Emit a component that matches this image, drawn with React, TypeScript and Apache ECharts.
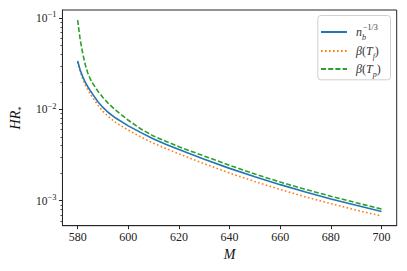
import React, { useEffect, useRef } from "react";
import * as echarts from "echarts";

const massValues = [580, 581, 582, 583, 584, 585, 586, 588, 590, 592, 595, 600, 605, 610, 615, 620, 630, 640, 650, 660, 670, 680, 690, 700];
const nbValues = [0.0339, 0.027, 0.0228, 0.0198, 0.0177, 0.016, 0.0146, 0.0121, 0.0105, 0.0093, 0.00804, 0.0066, 0.00556, 0.00473, 0.00412, 0.00363, 0.00285, 0.00226, 0.00183, 0.0015, 0.001245, 0.001047, 0.000891, 0.000764];
const betaTfValues = [0.033, 0.0258, 0.0215, 0.0186, 0.0164, 0.0147, 0.0134, 0.0111, 0.0095, 0.0084, 0.0072, 0.00592, 0.00498, 0.00425, 0.00372, 0.00326, 0.00254, 0.00201, 0.00162, 0.00133, 0.0011, 0.00093, 0.00079, 0.00068];
const betaTpValues = [0.095, 0.058, 0.041, 0.031, 0.025, 0.0215, 0.0192, 0.0158, 0.0135, 0.0117, 0.0098, 0.0076, 0.0061, 0.0051, 0.00445, 0.0039, 0.00308, 0.00244, 0.00196, 0.0016, 0.00133, 0.00112, 0.00095, 0.00081];

const xTicks = [580, 600, 620, 640, 660, 680, 700];
const yMajorTicks = [0.001, 0.01, 0.1];
const yMajorExps = ["\u22123", "\u22122", "\u22121"];
const yMinorTicks = [
  0.0006, 0.0007, 0.0008, 0.0009,
  0.002, 0.003, 0.004, 0.005, 0.006, 0.007, 0.008, 0.009,
  0.02, 0.03, 0.04, 0.05, 0.06, 0.07, 0.08, 0.09,
];

const SERIF = "'Liberation Serif', 'DejaVu Serif', serif";
const FRAME = "#262626";
const Y_MIN = 5.33e-4;
const Y_MAX = 0.1223;

const richText = {
  i: { fontFamily: SERIF, fontStyle: "italic", fontSize: 12, lineHeight: 18, color: "#333" },
  r: { fontFamily: SERIF, fontSize: 12, lineHeight: 18, color: "#333" },
  sub: { fontFamily: SERIF, fontStyle: "italic", fontSize: 8, verticalAlign: "bottom", color: "#333" },
  subw: { fontFamily: SERIF, fontStyle: "italic", fontSize: 8, verticalAlign: "bottom", width: 1, color: "#333" },
  sup: { fontFamily: SERIF, fontSize: 8, verticalAlign: "top", color: "#333" },
};

const legendLabels: Record<string, string> = {
  nb: "{i|n}{subw|b}{sup|\u22121/3}",
  Tf: "{i|\u03b2}{r|(}{i|T}{sub|f}{r|)}",
  Tp: "{i|\u03b2}{r|(}{i|T}{sub|p}{r|)}",
};

function makeLegend(name: string, top: number) {
  return {
    show: true,
    data: [name],
    left: 320,
    top,
    orient: "vertical",
    itemWidth: 26,
    itemHeight: 10,
    itemGap: 0,
    padding: 0,
    itemStyle: { color: "rgba(0,0,0,0)", borderWidth: 0, opacity: 0 },
    formatter: (n: string) => legendLabels[n],
    textStyle: { rich: richText, padding: [0, 0, 0, 4] },
  };
}

function tickAxis(values: number[], length: number, width: number) {
  return {
    type: "log",
    logBase: 10,
    min: Y_MIN,
    max: Y_MAX,
    position: "left",
    axisLine: { show: false },
    axisTick: { show: true, length, customValues: values, lineStyle: { color: FRAME, width } },
    axisLabel: { show: false, customValues: values },
    splitLine: { show: false },
  };
}

export default function App() {
  const ref = useRef<HTMLDivElement>(null);
  useEffect(() => {
    if (!ref.current) return;
    const chart = echarts.init(ref.current, null, { renderer: "svg" });
    const pairs = (vals: number[]) => massValues.map((m, i) => [m, vals[i]]);
    chart.setOption({
      animation: false,
      backgroundColor: "#fff",
      grid: {
        left: 57,
        right: 10.3,
        top: 10,
        bottom: 45.3,
        show: true,
        borderColor: FRAME,
        borderWidth: 1,
        backgroundColor: "transparent",
      },
      xAxis: {
        type: "value",
        min: 574,
        max: 706,
        name: "M",
        nameLocation: "middle",
        nameGap: 19,
        nameTextStyle: { fontFamily: SERIF, fontStyle: "italic", fontSize: 14, color: "#111" },
        axisLine: { show: true, onZero: false, lineStyle: { color: FRAME, width: 1 } },
        axisTick: { show: true, length: 3.5, customValues: xTicks, lineStyle: { color: FRAME, width: 1 } },
        axisLabel: { customValues: xTicks, margin: 5, fontFamily: SERIF, fontSize: 12, color: "#222" },
        splitLine: { show: false },
      },
      yAxis: [
        {
          type: "log",
          logBase: 10,
          min: Y_MIN,
          max: Y_MAX,
          position: "left",
          name: "{i|HR}{sub|*}",
          nameLocation: "middle",
          nameGap: 36,
          nameRotate: 90,
          nameTextStyle: {
            rich: {
              i: { fontFamily: SERIF, fontStyle: "italic", fontSize: 14, lineHeight: 20, color: "#111" },
              sub: { fontFamily: SERIF, fontSize: 9, verticalAlign: "bottom", color: "#111" },
            },
          },
          axisLine: { show: true, lineStyle: { color: FRAME, width: 1 } },
          axisTick: { show: false },
          axisLabel: {
            customValues: yMajorTicks,
            margin: 6,
            formatter: (v: number) => {
              let idx = 0;
              let best = Infinity;
              yMajorTicks.forEach((t, i) => {
                const d = Math.abs(Math.log10(v) - Math.log10(t));
                if (d < best) { best = d; idx = i; }
              });
              return "{b|10}{s|" + yMajorExps[idx] + "}";
            },
            rich: {
              b: { fontFamily: SERIF, fontSize: 11.5, lineHeight: 20, color: "#222" },
              s: { fontFamily: SERIF, fontSize: 8.5, verticalAlign: "top", padding: [2, 0, 0, 0], color: "#222" },
            },
          },
          splitLine: { show: false },
          minorTick: { show: false },
        },
        tickAxis(yMinorTicks, 2, 0.8),
        tickAxis(yMajorTicks, 3.5, 1),
      ],
      legend: [makeLegend("nb", 23), makeLegend("Tf", 45), makeLegend("Tp", 63)],
      graphic: [
        {
          type: "rect",
          left: 317.3,
          top: 15,
          shape: { width: 72.7, height: 64.3, r: 3 },
          style: { fill: "rgba(255,255,255,0.8)", stroke: "#d0d0d0", lineWidth: 1 },
          z: 0,
        },
      ],
      series: [
        {
          name: "nb",
          type: "line",
          data: pairs(nbValues),
          showSymbol: false,
          symbol: "none",
          lineStyle: { color: "#1f77b4", width: 1.6, type: "solid" },
          itemStyle: { color: "#1f77b4" },
          z: 3,
        },
        {
          name: "Tf",
          type: "line",
          data: pairs(betaTfValues),
          showSymbol: false,
          symbol: "none",
          lineStyle: { color: "#ff7f0e", width: 1.6, type: [1.6, 2.4] },
          itemStyle: { color: "#ff7f0e" },
          z: 2,
        },
        {
          name: "Tp",
          type: "line",
          data: pairs(betaTpValues),
          showSymbol: false,
          symbol: "none",
          lineStyle: { color: "#2ca02c", width: 1.6, type: [5, 2.2] },
          itemStyle: { color: "#2ca02c" },
          z: 4,
        },
      ],
    });
    return () => chart.dispose();
  }, []);
  return <div ref={ref} style={{ position: "fixed", left: 0, top: 0, width: 407, height: 271 }} />;
}
